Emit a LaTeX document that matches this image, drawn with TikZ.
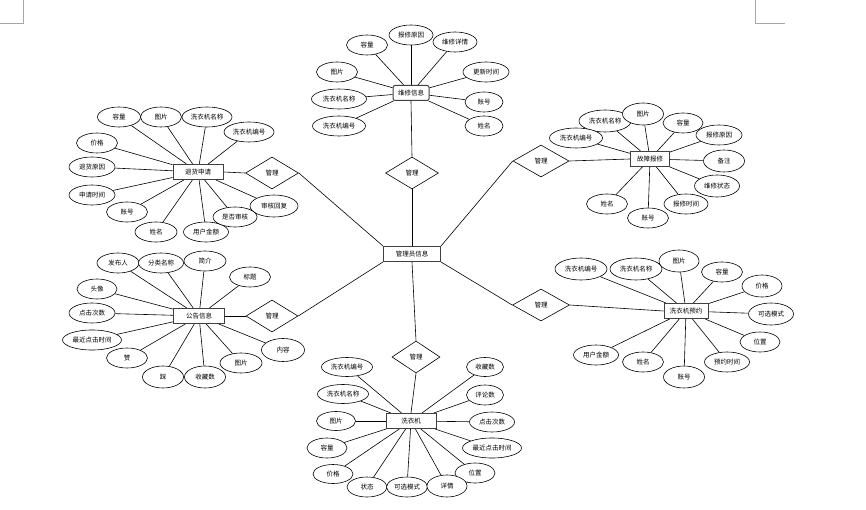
\documentclass[tikz,border=0pt]{standalone}
\usepackage{fontspec}
\newfontfamily\cjk{Noto Sans CJK SC}
\usepackage{tikz}
\usetikzlibrary{shapes.geometric}
\usetikzlibrary{backgrounds}

\begin{document}
\begin{tikzpicture}[
    x=1pt, y=-1pt,
    every node/.style={font=\cjk\fontsize{6.5}{7}\selectfont},
    entity/.style={draw=black!75, line width=1pt, rectangle, align=center,
                   minimum width=#1, minimum height=15, inner sep=1pt,
                   fill=white},
    entity/.default=50,
    attr/.style={draw, ellipse, minimum width=#1, minimum height=20,
                 inner sep=0pt, fill=white, line width=0.6pt},
    attr/.default=41,
    rel/.style={draw, diamond, minimum width=53, minimum height=32,
                inner sep=0pt, fill=white, line width=0.6pt},
    cropline/.style={draw=black!35, line width=0.8pt},
    every path/.style={line width=0.6pt}
  ]
    \useasboundingbox (0,0) rectangle (866,510);

    % Marques de page
    \draw[cropline] (0,23) -- (23,23) -- (23,0);
    \draw[cropline] (755,0) -- (755,23) -- (785,23);

    % Entité centrale
    \node[entity=57] (admin) at (412,254) {管理员信息};

    % Haut :维修信息
    \node[entity=36, rounded corners=2pt] (repair) at (411,93) {维修信息};
    \node[rel] (relRepair) at (412,173) {管理};
    \node[attr] (repCap) at (367,45) {容量};
    \node[attr=44] (repDetail) at (455,42) {维修详情};
    \node[attr=44] (repReason) at (411,35) {报修原因};
    \node[attr] (repPic) at (337,72) {图片};
    \node[attr=55] (repName) at (339,99) {洗衣机名称};
    \node[attr=53] (repNo) at (339,126) {洗衣机编号};
    \node[attr=46] (repTime) at (486,72) {更新时间};
    \node[attr=38] (repAcc) at (484,102) {账号};
    \node[attr=38] (repUser) at (484,126) {姓名};

    % Haut gauche : 退货申请
    \node[entity] (refund) at (198,172) {退货申请};
    \node[rel] (relRefund) at (272,173) {管理};
    \node[attr=43] (refCap) at (119,117) {容量};
    \node[attr] (refPic) at (161,117) {图片};
    \node[attr=50] (refName) at (207,117) {洗衣机名称};
    \node[attr=50] (refNo) at (249,132) {洗衣机编号};
    \node[attr] (refPrice) at (97,143) {价格};
    \node[attr=46] (refReason) at (92,167) {退货原因};
    \node[attr=46] (refTime) at (92,195) {申请时间};
    \node[attr] (refAcc) at (127,212) {账号};
    \node[attr=42] (refUser) at (156,232) {姓名};
    \node[attr=45] (refMoney) at (206,232) {用户金额};
    \node[attr=48, minimum height=22] (refReply) at (274,206) {审核回复};
    \node[attr=44] (refCheck) at (235,217) {是否审核};

    % Haut droite : 故障报修
    \node[entity=39] (fault) at (650,159) {故障报修};
    \node[rel, minimum width=56] (relFault) at (541,161) {管理};
    \node[attr=52, minimum height=22] (faName) at (605,121) {洗衣机名称};
    \node[attr, minimum height=22] (faPic) at (643,114) {图片};
    \node[attr=40] (faCap) at (683,123) {容量};
    \node[attr=46] (faReason) at (719,135) {报修原因};
    \node[attr=53] (faNo) at (576,138) {洗衣机编号};
    \node[attr, minimum height=22] (faNote) at (724,161) {备注};
    \node[attr=45, minimum height=22] (faState) at (717,186) {维修状态};
    \node[attr=44] (faTime) at (686,204) {报修时间};
    \node[attr] (faAcc) at (648,218) {账号};
    \node[attr] (faUser) at (607,204) {姓名};

    % Bas gauche : 公告信息
    \node[entity=51] (notice) at (199,316) {公告信息};
    \node[rel, minimum width=52] (relNotice) at (272,316) {管理};
    \node[attr=42] (noAuthor) at (118,263) {发布人};
    \node[attr=45] (noType) at (161,263) {分类名称};
    \node[attr=42] (noIntro) at (205,261) {简介};
    \node[attr] (noTitle) at (250,277) {标题};
    \node[attr=40] (noAvatar) at (97,289) {头像};
    \node[attr=46] (noClick) at (92,313) {点击次数};
    \node[attr=59] (noLast) at (92,340) {最近点击时间};
    \node[attr] (noLike) at (127,358) {赞};
    \node[attr, minimum height=22] (noDislike) at (163,377) {踩};
    \node[attr, minimum height=22] (noFav) at (205,377) {收藏数};
    \node[attr=42] (noPic) at (241,363) {图片};
    \node[attr=43, minimum height=23] (noText) at (283,350) {内容};

    % Bas droite : 洗衣机预约
    \node[entity=44] (booking) at (686,311) {洗衣机预约};
    \node[rel, minimum width=57] (relBooking) at (541,305) {管理};
    \node[attr=52, minimum height=22] (bkNo) at (581,269) {洗衣机编号};
    \node[attr=52, minimum height=22] (bkName) at (636,269) {洗衣机名称};
    \node[attr=40, minimum height=22] (bkPic) at (679,261) {图片};
    \node[attr] (bkCap) at (722,272) {容量};
    \node[attr=40, minimum height=22] (bkPrice) at (762,286) {价格};
    \node[attr=45, minimum height=22] (bkMode) at (771,314) {可选模式};
    \node[attr=40] (bkPlace) at (760,342) {位置};
    \node[attr=45] (bkTime) at (727,362) {预约时间};
    \node[attr, minimum height=22] (bkAcc) at (684,377) {账号};
    \node[attr] (bkUser) at (643,362) {姓名};
    \node[attr=45] (bkMoney) at (596,355) {用户金额};

    % Bas : 洗衣机
    \node[entity] (washer) at (411,421) {洗衣机};
    \node[rel, minimum width=48] (relWasher) at (416,357) {管理};
    \node[attr=51, minimum height=19] (waNo) at (347,367) {洗衣机编号};
    \node[attr=51, minimum height=19] (waName) at (343,394) {洗衣机名称};
    \node[attr=39, minimum height=19] (waPic) at (336,421) {图片};
    \node[attr=40] (waCap) at (327,448) {容量};
    \node[attr=40, minimum height=19] (waPrice) at (333,474) {价格};
    \node[attr=40] (waState) at (367,487) {状态};
    \node[attr] (waMode) at (407,487) {可选模式};
    \node[attr=40] (waPlace) at (475,473) {位置};
    \node[attr=40, minimum height=22] (waDetail) at (447,486) {详情};
    \node[attr=37, minimum height=19] (waFav) at (485,367) {收藏数};
    \node[attr=37] (waComment) at (485,395) {评论数};
    \node[attr=45] (waClick) at (492,422) {点击次数};
    \node[attr=59] (waLast) at (492,448) {最近点击时间};

    \begin{pgfonlayer}{background}
      % Relations autour du centre
      \draw (repair.south) -- (relRepair.north);
      \draw (relRepair.south) -- (admin.north);
      \draw (admin.north west) -- (relRefund.east);
      \draw (relRefund.west) -- (refund.east);
      \draw (admin.north east) -- (relFault.west);
      \draw (relFault.east) -- (fault.west);
      \draw (admin.south west) -- (relNotice.east);
      \draw (relNotice.west) -- (notice.east);
      \draw (admin.south east) -- (relBooking.west);
      \draw (relBooking.east) -- (booking.west);
      \draw (admin.south) -- (relWasher.north);
      \draw (relWasher.south) -- (washer.north);

      % Attributs de 维修信息
      \draw (repCap) -- (repair);
      \draw (repReason) -- (repair);
      \draw (repDetail) -- (repair);
      \draw (repPic) -- (repair);
      \draw (repName) -- (repair);
      \draw (repNo) -- (repair);
      \draw (repTime) -- (repair);
      \draw (repAcc) -- (repair);
      \draw (repUser) -- (repair);

      % Attributs de 退货申请
      \draw (refCap) -- (refund);
      \draw (refPic) -- (refund);
      \draw (refName) -- (refund);
      \draw (refNo) -- (refund);
      \draw (refPrice) -- (refund);
      \draw (refReason) -- (refund);
      \draw (refTime) -- (refund);
      \draw (refAcc) -- (refund);
      \draw (refUser) -- (refund);
      \draw (refMoney) -- (refund);
      \draw (refCheck) -- (refund);
      \draw (refReply) -- (refund);

      % Attributs de 故障报修
      \draw (faName) -- (fault);
      \draw (faPic) -- (fault);
      \draw (faCap) -- (fault);
      \draw (faReason) -- (fault);
      \draw (faNo) -- (fault);
      \draw (faNote) -- (fault);
      \draw (faState) -- (fault);
      \draw (faTime) -- (fault);
      \draw (faAcc) -- (fault);
      \draw (faUser) -- (fault);

      % Attributs de 公告信息
      \draw (noAuthor) -- (notice);
      \draw (noType) -- (notice);
      \draw (noIntro) -- (notice);
      \draw (noTitle) -- (notice);
      \draw (noAvatar) -- (notice);
      \draw (noClick) -- (notice);
      \draw (noLast) -- (notice);
      \draw (noLike) -- (notice);
      \draw (noDislike) -- (notice);
      \draw (noFav) -- (notice);
      \draw (noPic) -- (notice);
      \draw (noText) -- (notice);

      % Attributs de 洗衣机预约
      \draw (bkNo) -- (booking);
      \draw (bkName) -- (booking);
      \draw (bkPic) -- (booking);
      \draw (bkCap) -- (booking);
      \draw (bkPrice) -- (booking);
      \draw (bkMode) -- (booking);
      \draw (bkPlace) -- (booking);
      \draw (bkTime) -- (booking);
      \draw (bkAcc) -- (booking);
      \draw (bkUser) -- (booking);
      \draw (bkMoney) -- (booking);

      % Attributs de 洗衣机
      \draw (waNo) -- (washer);
      \draw (waName) -- (washer);
      \draw (waPic) -- (washer);
      \draw (waCap) -- (washer);
      \draw (waPrice) -- (washer);
      \draw (waState) -- (washer);
      \draw (waMode) -- (washer);
      \draw (waDetail) -- (washer);
      \draw (waPlace) -- (washer);
      \draw (waFav) -- (washer);
      \draw (waComment) -- (washer);
      \draw (waClick) -- (washer);
      \draw (waLast) -- (washer);
    \end{pgfonlayer}

  \end{tikzpicture}
\end{document}
